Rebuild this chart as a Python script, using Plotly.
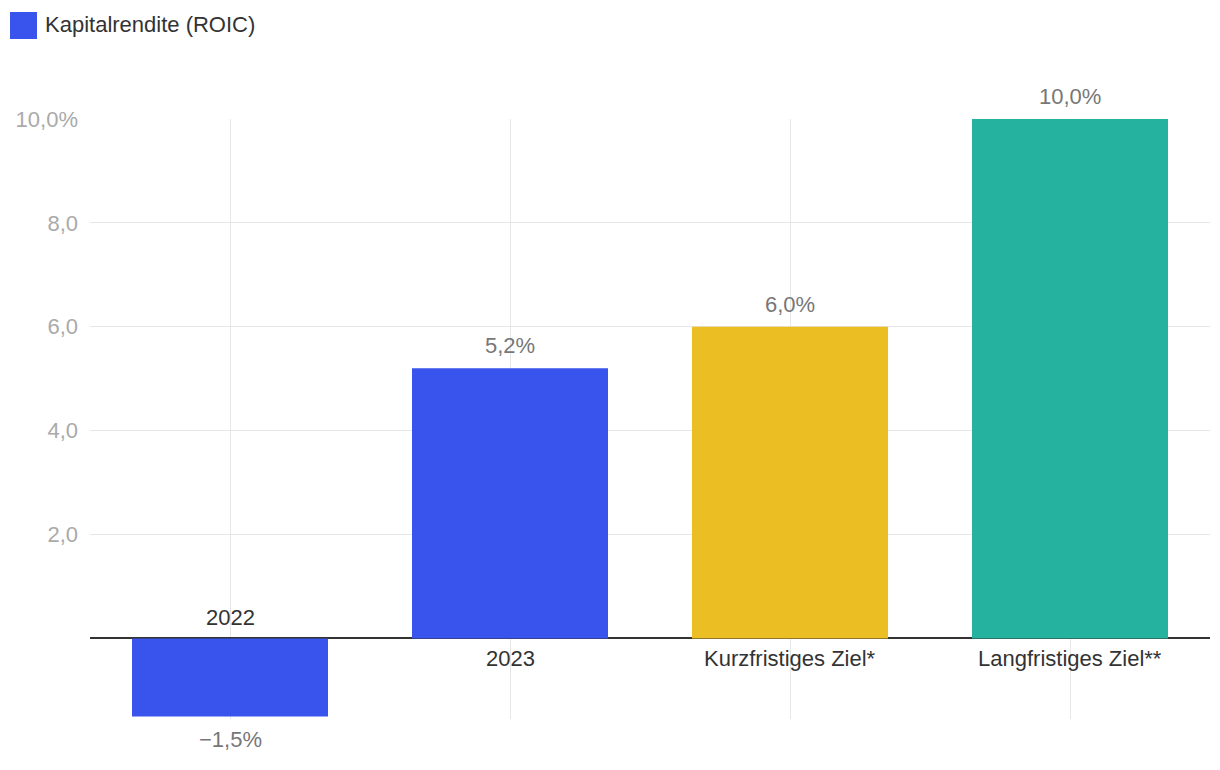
import plotly.graph_objects as go

categories = ["2022", "2023", "Kurzfristiges Ziel*", "Langfristiges Ziel**"]
values = [-1.5, 5.2, 6.0, 10.0]
value_labels = ["\u22121,5%", "5,2%", "6,0%", "10,0%"]
bar_colors = ["#3953ED", "#3953ED", "#EBBE24", "#25B39F"]
tick_vals = [2, 4, 6, 8, 10]
tick_text = ["2,0", "4,0", "6,0", "8,0", "10,0%"]
legend_label = "Kapitalrendite (ROIC)"

FONT = "Liberation Sans, Arial, sans-serif"
FS = 22
xpos = list(range(len(categories)))

fig = go.Figure()
fig.add_trace(go.Bar(
    x=xpos, y=values, marker=dict(color=bar_colors, line=dict(width=0)),
    width=0.7, showlegend=False, hoverinfo="skip",
))

annotations = []
for i, (c, v, lab) in enumerate(zip(categories, values, value_labels)):
    annotations.append(dict(
        x=i, y=v, xref="x", yref="y", text=lab, showarrow=False,
        font=dict(family=FONT, size=FS, color="#777777"),
        yanchor="bottom" if v >= 0 else "top",
        yshift=8 if v >= 0 else -9,
    ))
    annotations.append(dict(
        x=i, y=0, xref="x", yref="y", text=c, showarrow=False,
        font=dict(family=FONT, size=FS, color="#333333"),
        yanchor="top" if v >= 0 else "bottom",
        yshift=-6 if v >= 0 else 6,
    ))

annotations.append(dict(
    x=(43 - 90) / 1120, y=(770 - 51 - 25) / 600, xref="paper", yref="paper",
    text=legend_label, showarrow=False, xanchor="left", yanchor="middle",
    font=dict(family=FONT, size=FS, color="#333333"),
))

fig.update_layout(
    width=1220, height=770,
    margin=dict(l=90, r=10, t=119, b=51),
    paper_bgcolor="white", plot_bgcolor="white",
    font=dict(family=FONT),
    xaxis=dict(
        range=[-0.5, len(categories) - 0.5], tickvals=xpos,
        showgrid=True, gridcolor="#e6e6e6", gridwidth=1,
        showticklabels=False, ticks="", zeroline=False, showline=False,
    ),
    yaxis=dict(
        range=[-1.55, 10], tickvals=tick_vals, ticktext=tick_text,
        showgrid=True, gridcolor="#e6e6e6", gridwidth=1,
        zeroline=True, zerolinecolor="#333333", zerolinewidth=2,
        tickfont=dict(family=FONT, size=FS, color="#aaaaaa"),
        ticks="", ticklabelstandoff=11, showline=False,
    ),
    showlegend=False,
    annotations=annotations,
)

fig.add_shape(
    type="rect", xref="paper", yref="paper",
    x0=(10 - 90) / 1120, x1=(37 - 90) / 1120,
    y0=(770 - 51 - 39) / 600, y1=(770 - 51 - 12) / 600,
    fillcolor="#3953ED", line=dict(width=0),
)

fig.write_html("out.html")
